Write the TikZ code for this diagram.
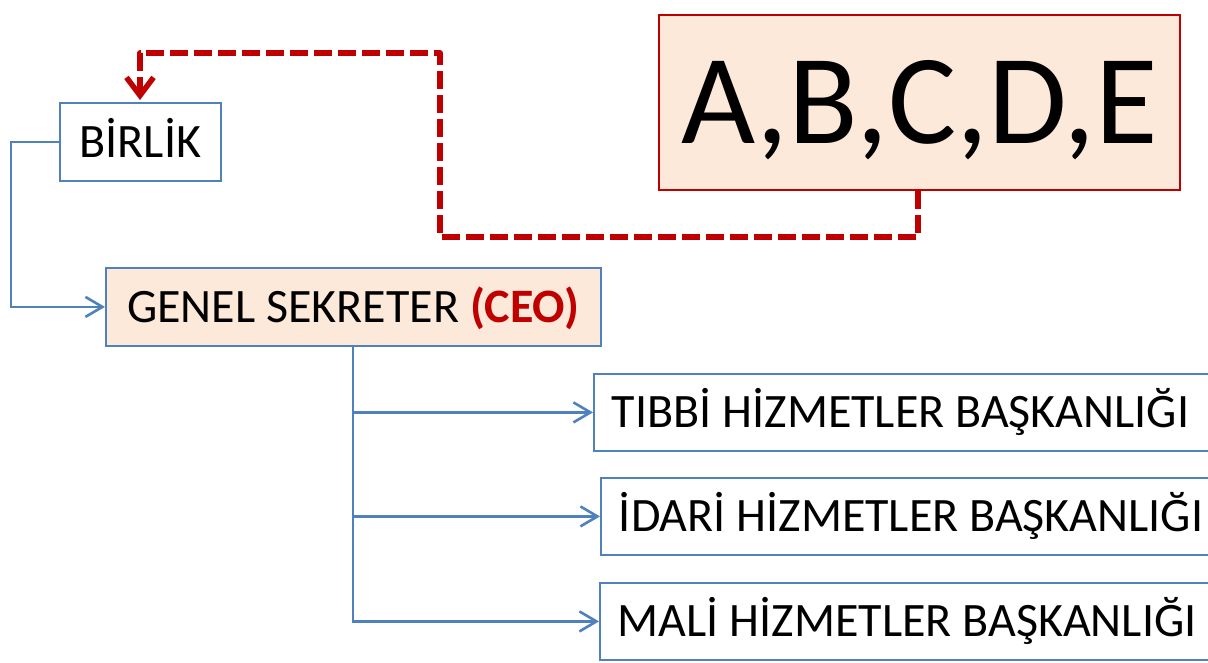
\documentclass[tikz,border=0pt]{standalone}
\usepackage{fontspec}
\setmainfont{Carlito}
\usetikzlibrary{arrows.meta}
\definecolor{boxblue}{HTML}{4F81BD}
\definecolor{darkred}{HTML}{C00000}
\definecolor{peach}{HTML}{FDE9D9}

\begin{document}
\begin{tikzpicture}[x=1pt,y=-1pt,
  unit/.style={draw=boxblue, line width=1.8pt, inner sep=0pt, anchor=north west,
    minimum height=77pt, font=\fontsize{48}{52}\selectfont,
    text height=31pt, text depth=0pt},
  dept/.style={unit, align=flush left, text width=640pt, inner xsep=18pt},
  link/.style={draw=boxblue, line width=2.6pt,
    -{Straight Barb[length=17pt,width=20pt,line width=2.6pt]}},
  feed/.style={draw=darkred, line width=5.5pt, dash pattern=on 18pt off 6pt,
    line join=round, -{Straight Barb[length=18pt,width=27pt,line width=5.5pt]}}
]
\clip (0,0) rectangle (1208,662);

% organisation boxes
\node[unit, minimum width=161pt, minimum height=78pt] (birlik) at (59,102) {BİRLİK};
\node[unit, fill=peach, minimum width=495pt, minimum height=78pt] (genel) at (105,267)
  {GENEL SEKRETER \textcolor{darkred}{\textbf{(CEO)}}};
\node[unit, draw=darkred, fill=peach, minimum width=521pt, minimum height=175pt,
  font=\fontsize{128}{134}\selectfont, text height=82pt, text depth=0pt]
  (abcde) at (658,14) {A,B,C,D,E};

\node[dept] (tibbi) at (593,373) {TIBBİ HİZMETLER BAŞKANLIĞI};
\node[dept] (idari) at (600,477) {İDARİ HİZMETLER BAŞKANLIĞI};
\node[dept] (mali)  at (599,582) {MALİ HİZMETLER BAŞKANLIĞI};

% reporting lines
\draw[link] (birlik.west) -- ++(-48,0) |- (genel.west);
\coordinate (trunk) at (353,345);
\draw[link] (trunk) |- (tibbi.west);
\draw[link] (trunk) |- (idari.west);
\draw[link] (trunk) |- (mali.west);

% shareholders feeding back to the union
\coordinate (bend1) at (918,237);
\coordinate (bend2) at (440,53);
\coordinate (tip) at (140,100);
\draw[feed] (abcde.south -| bend1) -- (bend1) -| (bend2) -| (tip);
\end{tikzpicture}
\end{document}
